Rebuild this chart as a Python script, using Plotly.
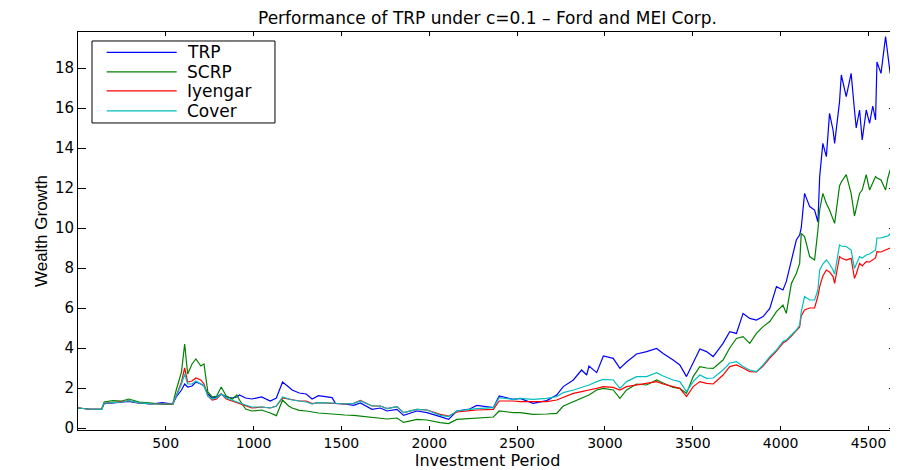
import plotly.graph_objects as go

period = [1, 60, 135, 150, 200, 250, 290, 350, 420, 480,
          540, 560, 590, 608, 625, 650, 672, 700, 718, 740,
          765, 790, 816, 845, 880, 905, 920, 955, 990, 1046,
          1095, 1130, 1165, 1200, 1220, 1260, 1300, 1333, 1370, 1447,
          1466, 1520, 1570, 1608, 1674, 1722, 1760, 1816, 1854, 1930,
          1987, 2062, 2110, 2157, 2230, 2271, 2365, 2398, 2478, 2517,
          2591, 2669, 2725, 2763, 2820, 2867, 2896, 2909, 2953, 2991,
          3047, 3085, 3123, 3180, 3237, 3294, 3331, 3388, 3426, 3464,
          3502, 3540, 3578, 3616, 3672, 3710, 3748, 3786, 3824, 3862,
          3900, 3938, 3976, 4013, 4032, 4061, 4089, 4108, 4117, 4136,
          4165, 4193, 4212, 4222, 4240, 4260, 4278, 4298, 4307, 4335,
          4345, 4373, 4401, 4420, 4430, 4449, 4464, 4487, 4506, 4524,
          4540, 4548, 4571, 4597, 4610, 4623, 4634, 4655]

trp = [1.00, 0.95, 0.93, 1.22, 1.25, 1.28, 1.33, 1.24, 1.20, 1.27,
       1.20, 1.55, 1.90, 2.20, 2.05, 2.10, 2.30, 2.20, 2.10, 1.70,
       1.50, 1.55, 1.70, 1.55, 1.50, 1.55, 1.65, 1.50, 1.45, 1.55,
       1.35, 1.50, 2.30, 2.05, 1.90, 1.75, 1.70, 1.45, 1.62, 1.52,
       1.23, 1.20, 1.13, 1.25, 0.93, 1.00, 0.85, 0.93, 0.63, 0.85,
       0.77, 0.57, 0.43, 0.85, 0.95, 1.13, 1.02, 1.60, 1.43, 1.48,
       1.23, 1.37, 1.65, 2.07, 2.40, 2.90, 2.65, 3.10, 2.77, 3.60,
       3.48, 2.98, 3.30, 3.70, 3.82, 3.98, 3.73, 3.40, 3.15, 2.57,
       3.23, 3.95, 3.82, 3.57, 4.23, 4.82, 4.73, 5.73, 5.48, 5.40,
       5.57, 5.98, 7.07, 6.90, 7.32, 8.40, 9.40, 9.65, 10.00, 11.73,
       11.07, 10.90, 10.30, 12.57, 14.23, 13.57, 15.73, 14.90, 14.23, 16.32,
       17.65, 16.57, 17.73, 15.90, 15.00, 15.90, 14.40, 15.90, 15.23, 16.10,
       15.40, 18.30, 17.73, 19.57, 18.57, 17.73, 18.73, 18.48]

scrp = [1.00, 0.95, 0.93, 1.30, 1.37, 1.35, 1.45, 1.30, 1.25, 1.18,
        1.18, 1.90, 2.80, 4.20, 2.70, 3.20, 3.45, 3.10, 3.20, 1.80,
        1.55, 1.60, 2.05, 1.60, 1.45, 1.65, 1.40, 0.95, 0.85, 0.90,
        0.75, 0.62, 1.40, 1.10, 1.00, 0.88, 0.85, 0.80, 0.75, 0.70,
        0.68, 0.65, 0.63, 0.60, 0.55, 0.50, 0.45, 0.50, 0.28, 0.43,
        0.40, 0.27, 0.22, 0.43, 0.48, 0.52, 0.55, 0.85, 0.77, 0.77,
        0.68, 0.70, 0.73, 1.10, 1.32, 1.48, 1.60, 1.65, 1.90, 1.98,
        1.90, 1.48, 1.90, 2.20, 2.15, 2.40, 2.25, 2.03, 1.98, 1.73,
        2.57, 3.07, 3.00, 2.98, 3.40, 4.00, 4.48, 4.57, 4.23, 4.73,
        5.07, 5.32, 5.82, 6.15, 5.73, 7.23, 7.73, 8.23, 9.73, 9.57,
        8.57, 8.40, 9.90, 10.90, 11.73, 11.23, 10.90, 10.40, 10.23, 12.10,
        12.30, 12.67, 11.73, 10.60, 11.00, 11.73, 11.90, 12.67, 11.90, 12.23,
        12.57, 12.50, 12.40, 11.90, 12.50, 12.90, 12.80, 12.67]

iyengar = [1.00, 0.95, 0.93, 1.24, 1.27, 1.30, 1.36, 1.25, 1.20, 1.20,
           1.19, 1.60, 2.30, 3.00, 2.30, 2.35, 2.50, 2.40, 2.20, 1.60,
           1.40, 1.45, 1.70, 1.45, 1.35, 1.30, 1.25, 1.12, 1.00, 1.05,
           1.00, 1.10, 1.50, 1.45, 1.40, 1.35, 1.35, 1.22, 1.27, 1.25,
           1.23, 1.20, 1.23, 1.38, 1.10, 1.10, 0.97, 1.07, 0.77, 0.93,
           0.90, 0.68, 0.60, 0.80, 0.87, 0.90, 0.93, 1.35, 1.35, 1.32,
           1.32, 1.32, 1.40, 1.53, 1.73, 1.82, 1.85, 1.90, 1.98, 2.07,
           2.03, 1.90, 2.07, 2.15, 2.23, 2.32, 2.20, 2.07, 1.98, 1.57,
           2.07, 2.32, 2.23, 2.20, 2.65, 3.07, 3.15, 3.00, 2.82, 2.80,
           3.10, 3.50, 3.85, 4.25, 4.35, 4.60, 4.85, 5.05, 5.60, 5.90,
           6.00, 6.00, 6.60, 7.07, 7.60, 7.90, 7.80, 7.57, 7.23, 8.57,
           8.50, 8.40, 8.48, 7.48, 7.70, 8.23, 8.10, 8.32, 8.30, 8.40,
           8.50, 8.82, 8.80, 8.90, 8.95, 9.00, 9.10, 9.15]

cover = [1.00, 0.95, 0.93, 1.24, 1.27, 1.30, 1.37, 1.26, 1.21, 1.20,
         1.20, 1.60, 2.20, 2.70, 2.20, 2.20, 2.35, 2.20, 2.10, 1.60,
         1.45, 1.50, 1.70, 1.50, 1.38, 1.32, 1.25, 1.15, 1.05, 1.05,
         1.00, 1.10, 1.55, 1.45, 1.40, 1.35, 1.30, 1.20, 1.27, 1.25,
         1.23, 1.20, 1.23, 1.35, 1.10, 1.10, 0.97, 1.07, 0.77, 0.93,
         0.90, 0.63, 0.57, 0.85, 0.93, 0.97, 1.02, 1.52, 1.43, 1.48,
         1.43, 1.48, 1.57, 1.77, 1.90, 2.03, 2.10, 2.15, 2.32, 2.43,
         2.40, 1.98, 2.32, 2.57, 2.57, 2.77, 2.60, 2.40, 2.32, 1.82,
         2.32, 2.65, 2.48, 2.50, 2.90, 3.25, 3.32, 3.07, 2.90, 2.82,
         3.15, 3.57, 3.90, 4.32, 4.40, 4.65, 4.90, 5.15, 5.80, 6.57,
         6.40, 6.40, 6.90, 7.90, 8.20, 8.40, 8.20, 7.90, 7.70, 9.15,
         9.10, 9.07, 8.90, 7.98, 8.20, 8.57, 8.50, 8.65, 8.70, 8.82,
         8.90, 9.50, 9.50, 9.57, 9.60, 9.70, 9.85, 9.90]

series_names = ["TRP", "SCRP", "Iyengar", "Cover"]
series_colors = ["#0000FF", "#008000", "#FF0000", "#00BFBF"]
x_ticks = [500, 1000, 1500, 2000, 2500, 3000, 3500, 4000, 4500]
y_ticks = [0, 2, 4, 6, 8, 10, 12, 14, 16, 18]

for s in (trp, scrp, iyengar, cover):
    assert len(s) == len(period), (len(s), len(period))

FONT = "DejaVu Sans"

fig = go.Figure()
for name, vals, col in zip(series_names, [trp, scrp, iyengar, cover], series_colors):
    fig.add_trace(go.Scatter(x=period, y=vals, mode="lines", name=name,
                             line=dict(color=col, width=1.2), showlegend=False))

# Legend box drawn in the MATLAB style (wide line samples)
shapes = [dict(type="rect", xref="paper", yref="paper",
               x0=0.0171, x1=0.2405, y0=0.7714, y1=0.9774,
               line=dict(color="black", width=1), fillcolor="white", layer="above")]
annotations = []
row_y = [0.949, 0.900, 0.852, 0.802]
for name, col, yy in zip(series_names, series_colors, row_y):
    shapes.append(dict(type="line", xref="paper", yref="paper",
                       x0=0.035, x1=0.1205, y0=yy, y1=yy,
                       line=dict(color=col, width=1.2), layer="above"))
    annotations.append(dict(text=name, xref="paper", yref="paper",
                            x=0.1306, y=yy, xanchor="left", yanchor="middle",
                            showarrow=False,
                            font=dict(family=FONT, size=17, color="black")))

fig.update_layout(
    width=890, height=462,
    margin=dict(l=70, r=1, t=24, b=40),
    plot_bgcolor="white", paper_bgcolor="white",
    font=dict(family=FONT, size=14, color="black"),
    title=dict(text="Performance of TRP under c=0.1 \u2013 Ford and MEI Corp.",
               x=0.5, xanchor="center", xref="paper",
               y=1 - 10.5 / 462, yanchor="middle", yref="container",
               font=dict(family=FONT, size=17, color="black")),
    shapes=shapes,
    annotations=annotations,
    showlegend=False,
)
fig.update_xaxes(range=[1, 4662], tickvals=x_ticks, ticks="inside", ticklen=4,
                 tickcolor="black", showline=True, linecolor="black", linewidth=1,
                 mirror="ticks", showgrid=False, zeroline=False, automargin=False,
                 tickfont=dict(family=FONT, size=14),
                 title=dict(text="Investment Period", standoff=1,
                            font=dict(family=FONT, size=16)))
fig.update_yaxes(range=[-0.1, 19.8], tickvals=y_ticks, ticks="inside", ticklen=8,
                 tickcolor="black", showline=True, linecolor="black", linewidth=1,
                 mirror="ticks", showgrid=False, zeroline=False, automargin=False,
                 tickfont=dict(family=FONT, size=15),
                 title=dict(text="Wealth Growth", standoff=2,
                            font=dict(family="Liberation Sans Narrow, Liberation Sans", size=17)))

fig.write_html("out.html")
